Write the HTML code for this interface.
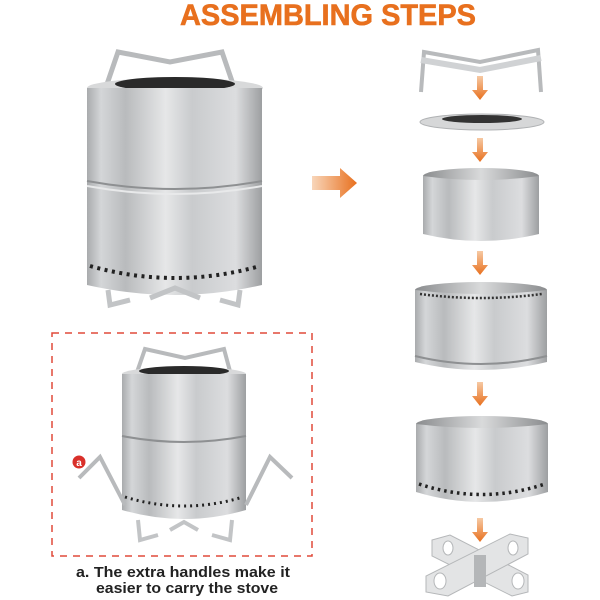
<!DOCTYPE html>
<html><head><meta charset="utf-8"><style>
html,body{margin:0;padding:0;background:#fff;}
svg{display:block;}
</style></head><body>
<svg width="600" height="600" viewBox="0 0 600 600" xmlns="http://www.w3.org/2000/svg">
<defs>
<linearGradient id="m" x1="0" x2="1" y1="0" y2="0">
<stop offset="0" stop-color="#a9abad"/><stop offset="0.08" stop-color="#d4d6d8"/>
<stop offset="0.22" stop-color="#b9bbbd"/><stop offset="0.45" stop-color="#e6e7e8"/>
<stop offset="0.6" stop-color="#c9cbcd"/><stop offset="0.85" stop-color="#dcdddf"/>
<stop offset="1" stop-color="#9d9fa1"/></linearGradient>
<linearGradient id="in" x1="0" x2="1"><stop offset="0" stop-color="#8a8c8e"/><stop offset="0.5" stop-color="#d9dadb"/><stop offset="1" stop-color="#8a8c8e"/></linearGradient>
<linearGradient id="ar" x1="0" x2="0" y1="0" y2="1"><stop offset="0" stop-color="#f6c9a4"/><stop offset="1" stop-color="#e8701e"/></linearGradient>
<linearGradient id="arh" x1="0" x2="1"><stop offset="0" stop-color="#f8d6ba"/><stop offset="1" stop-color="#e8701e"/></linearGradient>
</defs>
<text x="328" y="25" text-anchor="middle" font-family="Liberation Sans, sans-serif" font-weight="bold" font-size="30" fill="#e8701e" stroke="#e8701e" stroke-width="0.6" textLength="296" lengthAdjust="spacingAndGlyphs">ASSEMBLING STEPS</text>

<!-- main stove -->
<g>
<path d="M105 90 L118 52 L170 62 L222 52 L235 90" fill="none" stroke="#b8babc" stroke-width="5"/>
<ellipse cx="175" cy="88" rx="88" ry="10" fill="#d8d9da"/>
<ellipse cx="175" cy="84" rx="60" ry="7" fill="#2a2a2a"/>
<path d="M87 88 L262 88 L262 285 Q175 305 87 285 Z" fill="url(#m)"/>
<path d="M87 181 Q175 197 262 181" stroke="#8e9092" stroke-width="2" fill="none"/>
<path d="M87 186 Q175 202 262 186" stroke="#e8e9ea" stroke-width="2" fill="none"/>
<path d="M90 266 Q175 290 260 266" stroke="#222" stroke-width="4" stroke-dasharray="3 4.5" fill="none"/>
<path d="M108 290 L110 305 L130 300 M240 290 L238 305 L220 300 M150 298 L175 288 L200 298" stroke="#c2c4c6" stroke-width="5" fill="none"/>
</g>
<path d="M312 176 L340 176 L340 168 L357 183 L340 198 L340 190 L312 190 Z" fill="url(#arh)"/>

<!-- right column -->
<path d="M421 92 L424 52 L480 62 L538 50 L541 92" fill="none" stroke="#b8babc" stroke-width="4"/>
<path d="M421 60 L480 70 L541 58" fill="none" stroke="#d0d2d4" stroke-width="6"/>
<g fill="url(#ar)">
<path d="M477 76 h6 v14 h5 l-8 10 l-8 -10 h5 z"/>
<path d="M477 138 h6 v14 h5 l-8 10 l-8 -10 h5 z"/>
<path d="M477 251 h6 v14 h5 l-8 10 l-8 -10 h5 z"/>
<path d="M477 382 h6 v14 h5 l-8 10 l-8 -10 h5 z"/>
<path d="M477 518 h6 v14 h5 l-8 10 l-8 -10 h5 z"/>
</g>
<ellipse cx="482" cy="122" rx="62" ry="8" fill="#d6d7d8" stroke="#b0b2b4"/>
<ellipse cx="482" cy="119" rx="40" ry="4" fill="#333"/>
<ellipse cx="481" cy="176" rx="58" ry="8" fill="url(#in)"/>
<path d="M423 176 Q481 184 539 176 L539 234 Q481 248 423 234 Z" fill="url(#m)"/>
<ellipse cx="481" cy="290" rx="66" ry="8" fill="url(#in)"/>
<path d="M415 290 Q481 298 547 290 L547 362 Q481 378 415 362 Z" fill="url(#m)"/>
<path d="M420 294 Q481 302 542 294" stroke="#333" stroke-width="2.5" stroke-dasharray="2 2" fill="none"/>
<path d="M415 356 Q481 372 547 356" stroke="#8e9092" stroke-width="2" fill="none"/>
<ellipse cx="482" cy="424" rx="66" ry="8" fill="url(#in)"/>
<path d="M416 424 Q482 432 548 424 L548 492 Q482 512 416 492 Z" fill="url(#m)"/>
<path d="M419 484 Q482 505 545 484" stroke="#222" stroke-width="3.5" stroke-dasharray="2.5 4" fill="none"/>
<!-- stand (X shape) -->
<g fill="#e3e4e5" stroke="#b5b7b9">
<path d="M432 540 L450 535 L528 575 L528 592 L512 596 L432 556 Z"/>
<path d="M528 538 L528 554 L448 596 L426 592 L426 576 L510 534 Z"/>
</g>
<rect x="474" y="555" width="12" height="32" fill="#b4b6b8"/>
<g fill="#fff" stroke="#b5b7b9"><ellipse cx="440" cy="581" rx="6" ry="8"/><ellipse cx="518" cy="581" rx="6" ry="8"/><ellipse cx="448" cy="548" rx="5" ry="7"/><ellipse cx="513" cy="548" rx="5" ry="7"/></g>

<!-- dashed box -->
<rect x="52" y="333" width="260" height="223" fill="none" stroke="#e04a3a" stroke-width="1.5" stroke-dasharray="7 6"/>
<path d="M136 375 L145 349 L185 358 L224 349 L231 375" fill="none" stroke="#b8babc" stroke-width="4"/>
<ellipse cx="184" cy="374" rx="62" ry="7" fill="#d8d9da"/>
<ellipse cx="184" cy="371" rx="45" ry="5" fill="#2a2a2a"/>
<path d="M122 374 L246 374 L246 510 Q184 528 122 510 Z" fill="url(#m)"/>
<path d="M122 436 Q184 448 246 436" stroke="#8e9092" stroke-width="2" fill="none"/>
<path d="M125 497 Q184 515 243 497" stroke="#222" stroke-width="3" stroke-dasharray="2 4" fill="none"/>
<path d="M79 478 L100 457 L125 505 M292 478 L270 457 L246 505" fill="none" stroke="#b8babc" stroke-width="4"/>
<path d="M138 520 L140 540 L158 535 M232 520 L230 540 L212 535 M170 530 L184 522 L198 530" stroke="#c2c4c6" stroke-width="4" fill="none"/>
<circle cx="79" cy="462" r="6.5" fill="#d9302a"/>
<text x="79" y="466" text-anchor="middle" font-family="Liberation Sans, sans-serif" font-weight="bold" font-size="10" fill="#fff">a</text>
<text x="183" y="577" text-anchor="middle" font-family="Liberation Sans, sans-serif" font-weight="bold" font-size="15" fill="#222" textLength="214" lengthAdjust="spacingAndGlyphs">a. The extra handles make it</text>
<text x="187" y="593" text-anchor="middle" font-family="Liberation Sans, sans-serif" font-weight="bold" font-size="15" fill="#222" textLength="182" lengthAdjust="spacingAndGlyphs">easier to carry the stove</text>
</svg>
</body></html>
